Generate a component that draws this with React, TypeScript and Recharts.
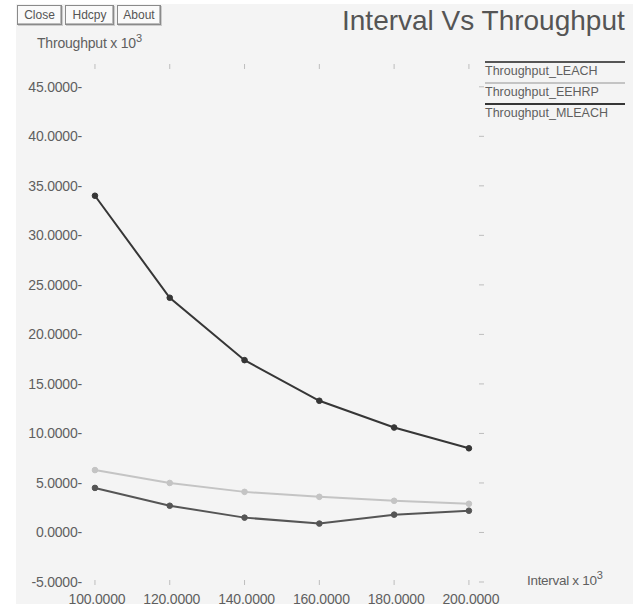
import React from 'react';
import { LineChart, Line, XAxis, YAxis } from 'recharts';

const intervals = [100, 120, 140, 160, 180, 200];
const leach = [4.5, 2.7, 1.5, 0.9, 1.8, 2.2];
const eehrp = [6.3, 5.0, 4.1, 3.6, 3.2, 2.9];
const mleach = [34.0, 23.7, 17.4, 13.3, 10.6, 8.5];

const xTicks = [100, 120, 140, 160, 180, 200];
const yTicks = [-5, 0, 5, 10, 15, 20, 25, 30, 35, 40, 45];

const series = [
  { key: 'leach', name: 'Throughput_LEACH', color: '#555555' },
  { key: 'eehrp', name: 'Throughput_EEHRP', color: '#c4c4c4' },
  { key: 'mleach', name: 'Throughput_MLEACH', color: '#363636' },
];

const data = intervals.map((x, i) => ({ x, leach: leach[i], eehrp: eehrp[i], mleach: mleach[i] }));

const FONT = '"Liberation Sans", Arial, sans-serif';
const TEXT = '#5f5f5f';

const BottomTick = (props: any) => {
  const { x, payload } = props;
  return (
    <g>
      <line x1={x} x2={x} y1={580} y2={585} stroke="#bdbdbd" />
      <text x={x + 2} y={604} textAnchor="middle" fontSize={14} fill={TEXT} fontFamily={FONT} letterSpacing={-0.2}>
        {payload.value.toFixed(4)}
      </text>
    </g>
  );
};

const TopTick = (props: any) => {
  const { x } = props;
  return <line x1={x} x2={x} y1={64} y2={69} stroke="#bdbdbd" />;
};

const LeftTick = (props: any) => {
  const { y, payload } = props;
  return (
    <text x={82} y={y + 5} textAnchor="end" fontSize={14} fill={TEXT} fontFamily={FONT} letterSpacing={-0.2}>
      {payload.value.toFixed(4) + '-'}
    </text>
  );
};

const RightTick = (props: any) => {
  const { y } = props;
  return <line x1={479} x2={484} y1={y} y2={y} stroke="#bdbdbd" />;
};

const btn: React.CSSProperties = {
  position: 'absolute',
  top: 5,
  height: 18,
  border: '1px solid #8a8a8a',
  boxShadow: 'inset -1px -1px 0 #bbb, 1px 1px 0 #ccc',
  background: '#fafafa',
  fontSize: 12,
  lineHeight: '18px',
  color: '#555',
  textAlign: 'center',
  fontFamily: FONT,
};

export default function App() {
  return (
    <div style={{ position: 'absolute', left: 0, top: 0, width: 633, height: 609, background: '#ffffff', overflow: 'hidden' }}>
      <div style={{ position: 'absolute', left: 16, top: 4, width: 617, height: 600, background: '#f4f4f4' }} />
      <div style={{ ...btn, left: 17, width: 43 }}>Close</div>
      <div style={{ ...btn, left: 65, width: 47 }}>Hdcpy</div>
      <div style={{ ...btn, left: 117, width: 42 }}>About</div>
      <div style={{ position: 'absolute', left: 342, top: 5, fontSize: 28, color: '#555', fontFamily: FONT, whiteSpace: 'nowrap' }}>
        Interval Vs Throughput
      </div>
      <div style={{ position: 'absolute', left: 37, top: 32, fontSize: 14, color: TEXT, fontFamily: FONT, whiteSpace: 'nowrap', letterSpacing: -0.2 }}>
        Throughput x 10<sup style={{ fontSize: 11 }}>3</sup>
      </div>
      <div style={{ position: 'absolute', left: 527, top: 569, fontSize: 13.5, color: TEXT, fontFamily: FONT, whiteSpace: 'nowrap', letterSpacing: -0.3 }}>
        Interval x 10<sup style={{ fontSize: 11 }}>3</sup>
      </div>
      {series.map((s, i) => (
        <div key={s.key} style={{ position: 'absolute', left: 485, top: 61 + i * 21, width: 140 }}>
          <div style={{ height: 0, borderTop: `2px solid ${s.color}` }} />
          <div style={{ fontSize: 12.5, color: TEXT, fontFamily: FONT, marginTop: 1, whiteSpace: 'nowrap' }}>{s.name}</div>
        </div>
      ))}
      <div style={{ position: 'absolute', left: 0, top: 0 }}>
        <LineChart width={633} height={609} data={data} margin={{ top: 56, right: 141, bottom: 7, left: 20 }}>
          <XAxis
            xAxisId="bottom"
            dataKey="x"
            type="number"
            domain={[96, 203.5]}
            ticks={xTicks}
            height={20}
            axisLine={false}
            tickLine={false}
            tick={<BottomTick />}
            allowDataOverflow
          />
          <XAxis
            xAxisId="top"
            orientation="top"
            dataKey="x"
            type="number"
            domain={[96, 203.5]}
            ticks={xTicks}
            height={10}
            axisLine={false}
            tickLine={false}
            tick={<TopTick />}
            allowDataOverflow
          />
          <YAxis
            yAxisId="left"
            type="number"
            domain={[-5, 47.1]}
            ticks={yTicks}
            width={60}
            axisLine={false}
            tickLine={false}
            tick={<LeftTick />}
            allowDataOverflow
          />
          <YAxis
            yAxisId="right"
            orientation="right"
            type="number"
            domain={[-5, 47.1]}
            ticks={yTicks}
            width={10}
            axisLine={false}
            tickLine={false}
            tick={<RightTick />}
            allowDataOverflow
          />
          {series.map((s) => (
            <Line
              key={s.key}
              xAxisId="bottom"
              yAxisId="left"
              dataKey={s.key}
              stroke={s.color}
              strokeWidth={2}
              dot={{ r: 2.8, fill: s.color, stroke: s.color, strokeWidth: 1 }}
              isAnimationActive={false}
            />
          ))}
        </LineChart>
      </div>
    </div>
  );
}
